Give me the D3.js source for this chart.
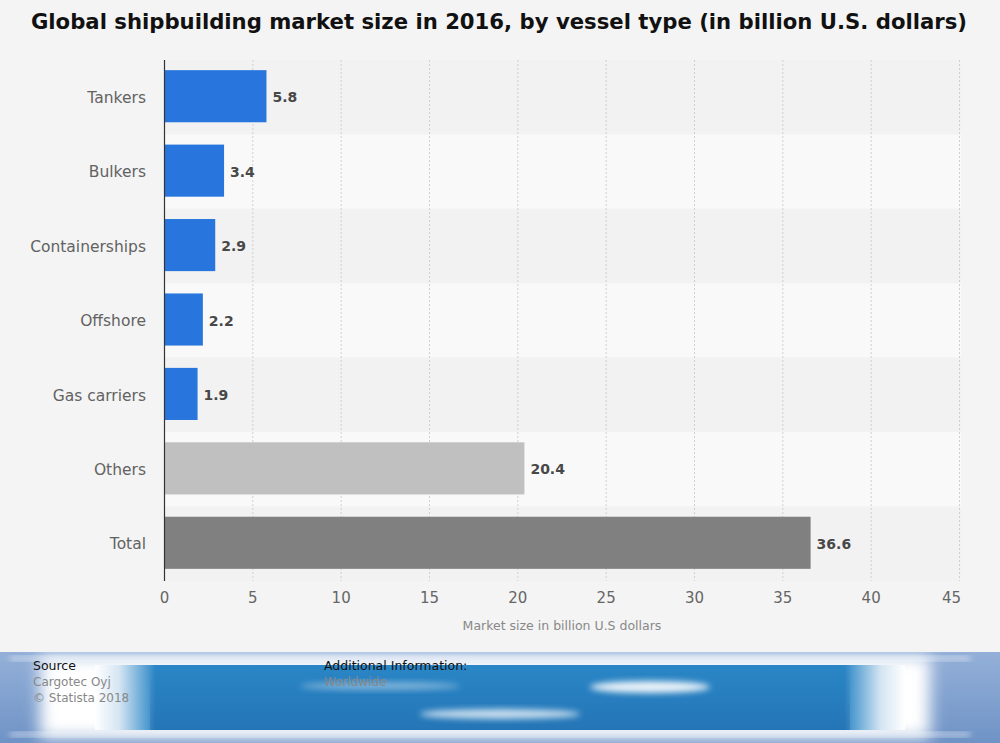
<!DOCTYPE html>
<html><head><meta charset="utf-8">
<script src="https://cdn.jsdelivr.net/npm/d3@7"></script>
<style>
html,body{margin:0;padding:0;background:#f4f4f4;}
svg{display:block;font-family:"DejaVu Sans",sans-serif;}
</style></head>
<body><svg id="c" width="1000" height="743"></svg>
<script>
const categories = ["Tankers","Bulkers","Containerships","Offshore","Gas carriers","Others","Total"];
const values = [5.8,3.4,2.9,2.2,1.9,20.4,36.6];
const barColors = ["#2876dd","#2876dd","#2876dd","#2876dd","#2876dd","#c0c0c0","#808080"];
const xTicks = [0,5,10,15,20,25,30,35,40,45];
const title = "Global shipbuilding market size in 2016, by vessel type (in billion U.S. dollars)";
const xTitle = "Market size in billion U.S dollars";

const svg = d3.select("#c");
svg.append("rect").attr("width",1000).attr("height",743).attr("fill","#f4f4f4");

const x = d3.scaleLinear().domain([0,45]).range([164,959]);
const yBand = d3.scaleBand().domain(categories).range([60,581]);
const y = d3.scaleBand().domain(categories).range([60,581]).paddingInner(0.3).paddingOuter(0.15);

// row bands
svg.append("g").selectAll("rect").data(categories).join("rect")
  .attr("x",164).attr("width",959-164+2)
  .attr("y",d=>yBand(d)).attr("height",yBand.bandwidth())
  .attr("fill",(d,i)=> i%2===0 ? "#f2f2f2" : "#f9f9f9");

// gridlines
svg.append("g").selectAll("line").data(xTicks.slice(1)).join("line")
  .attr("x1",d=>x(d)+0.5).attr("x2",d=>x(d)+0.5)
  .attr("y1",60).attr("y2",581)
  .attr("stroke","#cfcfcf").attr("stroke-width",1).attr("stroke-dasharray","2,2");

// bars
svg.append("g").selectAll("rect").data(values).join("rect")
  .attr("x",x(0)).attr("y",(d,i)=>y(categories[i])-1)
  .attr("width",d=>x(d)-x(0)).attr("height",y.bandwidth())
  .attr("fill",(d,i)=>barColors[i]);

// value labels
svg.append("g").selectAll("text").data(values).join("text")
  .attr("x",d=>x(d)+6).attr("y",(d,i)=>y(categories[i])+y.bandwidth()/2)
  .attr("dy","0.36em").attr("font-size",14).attr("font-weight","bold")
  .attr("fill","#484848").text(d=>d.toFixed(1));

// axis line
svg.append("line").attr("x1",164.5).attr("x2",164.5).attr("y1",60).attr("y2",581)
  .attr("stroke","#333").attr("stroke-width",1.2);

// category labels
svg.append("g").selectAll("text").data(categories).join("text")
  .attr("x",146).attr("y",d=>yBand(d)+yBand.bandwidth()/2)
  .attr("dy","0.36em").attr("text-anchor","end")
  .attr("font-size",15.5).attr("fill","#626262").text(d=>d);

// x axis via d3
const xAxis = d3.axisBottom(x).tickValues(xTicks).tickSize(0).tickPadding(0).tickFormat(d3.format("d"));
const gx = svg.append("g").attr("transform","translate(0,592)").call(xAxis);
gx.select(".domain").remove();
gx.selectAll("text").attr("font-size",15).attr("fill","#666").attr("font-family","DejaVu Sans, sans-serif").attr("dy","0.71em");
gx.selectAll(".tick").filter(d=>d===45).select("text").attr("dx",-8);

svg.append("text").attr("x",562).attr("y",630).attr("text-anchor","middle")
  .attr("font-size",12.5).attr("fill","#888").text(xTitle);

// title
svg.append("text").attr("x",499).attr("y",29).attr("text-anchor","middle")
  .attr("font-size",21.2).attr("font-weight","bold").attr("fill","#111").text(title);

// footer
const defs = svg.append("defs");
const bg = defs.append("linearGradient").attr("id","fbg").attr("x1",0).attr("x2",0).attr("y1",0).attr("y2",1);
bg.append("stop").attr("offset","0").attr("stop-color","#94b0d8");
bg.append("stop").attr("offset","1").attr("stop-color","#6f93c6");
const hb = defs.append("linearGradient").attr("id","fhb").attr("x1",0).attr("x2",1).attr("y1",0).attr("y2",0);
[[0,"#ffffff"],[0.03,"#d4e5f2"],[0.075,"#2a86c6"],[0.925,"#2a86c6"],[0.97,"#d4e5f2"],[1,"#ffffff"]]
  .forEach(s=>hb.append("stop").attr("offset",s[0]).attr("stop-color",s[1]));
const vs = defs.append("linearGradient").attr("id","fvs").attr("x1",0).attr("x2",0).attr("y1",0).attr("y2",1);
vs.append("stop").attr("offset","0").attr("stop-color","#0a2a70").attr("stop-opacity",0);
vs.append("stop").attr("offset","1").attr("stop-color","#0a2a70").attr("stop-opacity",0.18);
defs.append("filter").attr("id","b8").attr("x","-20%").attr("y","-50%").attr("width","140%").attr("height","200%")
  .append("feGaussianBlur").attr("stdDeviation",8);
defs.append("filter").attr("id","b3").attr("x","-20%").attr("y","-50%").attr("width","140%").attr("height","200%")
  .append("feGaussianBlur").attr("stdDeviation",3);
defs.append("clipPath").attr("id","fclip").append("rect").attr("x",0).attr("y",652).attr("width",1000).attr("height",91);

const f = svg.append("g").attr("clip-path","url(#fclip)");
f.append("rect").attr("x",0).attr("y",652).attr("width",1000).attr("height",91).attr("fill","url(#fbg)");
f.append("rect").attr("x",40).attr("y",656).attr("width",890).attr("height",82).attr("fill","#ffffff").attr("filter","url(#b8)");
f.append("rect").attr("x",10).attr("y",657).attr("width",960).attr("height",3).attr("fill","#ffffff").attr("opacity",0.8).attr("filter","url(#b3)");
f.append("rect").attr("x",10).attr("y",733).attr("width",960).attr("height",3).attr("fill","#ffffff").attr("opacity",0.8).attr("filter","url(#b3)");
f.append("rect").attr("x",95).attr("y",665).attr("width",810).attr("height",65).attr("fill","url(#fhb)");
f.append("rect").attr("x",150).attr("y",665).attr("width",700).attr("height",65).attr("fill","url(#fvs)");
f.append("ellipse").attr("cx",650).attr("cy",687).attr("rx",60).attr("ry",6).attr("fill","#ffffff").attr("opacity",0.9).attr("filter","url(#b3)");
f.append("ellipse").attr("cx",380).attr("cy",686).attr("rx",80).attr("ry",4).attr("fill","#ffffff").attr("opacity",0.4).attr("filter","url(#b3)");
f.append("ellipse").attr("cx",500).attr("cy",714).attr("rx",80).attr("ry",5).attr("fill","#ffffff").attr("opacity",0.75).attr("filter","url(#b3)");

const ft = svg.append("g");
ft.append("text").attr("x",33).attr("y",670).attr("font-size",12.5).attr("fill","#111").text("Source");
ft.append("text").attr("x",33).attr("y",686).attr("font-size",12).attr("fill","#888").text("Cargotec Oyj");
ft.append("text").attr("x",33).attr("y",702).attr("font-size",12).attr("fill","#888").text("© Statista 2018");
ft.append("text").attr("x",324).attr("y",670).attr("font-size",12.5).attr("fill","#111").text("Additional Information:");
ft.append("text").attr("x",324).attr("y",686).attr("font-size",12).attr("fill","#888").text("Worldwide");
</script></body></html>
